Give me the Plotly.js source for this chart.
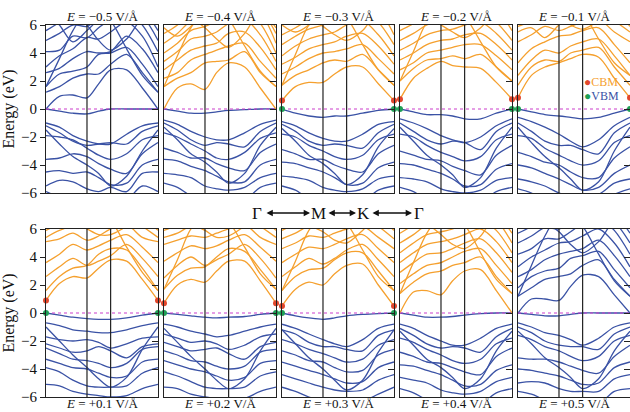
<!DOCTYPE html>
<html><head><meta charset="utf-8">
<script src="https://cdn.plot.ly/plotly-3.0.1.min.js"></script>
<style>html,body{margin:0;padding:0;background:#fff}#chart{width:630px;height:412px}</style>
</head><body><div id="chart"></div>
<script>
// k path Γ-M-K-Γ (normalised length), high-symmetry positions
const kGrid = [0, 0.12, 0.24, 0.366, 0.47, 0.577, 0.72, 0.86, 1.0];
const symK = [0.366, 0.577];
const fieldLabels = ['\u22120.5','\u22120.4','\u22120.3','\u22120.2','\u22120.1','+0.1','+0.2','+0.3','+0.4','+0.5'];
const cbmE = [null, null, 0.6, 0.7, 0.8, 0.9, 0.7, 0.5, null, null];
const vbmE = [null, null, 0, 0, 0, 0, 0, 0, null, null];
const metallic = [true, false, false, false, false, false, false, false, false, true];
const yTicks = [-6, -4, -2, 0, 2, 4, 6];
const yTickText = ['\u22126', '\u22124', '\u22122', '0', '2', '4', '6'];

const cb_m05 = [
[0.0, 0.9, 1.0, 0.8, 1.8, 2.8, 2.8, 1.5, 0.0],
[1.2, 1.6, 2.2, 2.5, 2.5, 3.2, 3.9, 2.6, 1.2],
[1.6, 2.5, 2.7, 3.0, 3.9, 4.0, 4.4, 3.2, 1.6],
[2.6, 2.9, 3.6, 4.1, 4.0, 4.1, 5.2, 4.3, 2.6],
[3.0, 3.8, 4.3, 5.1, 5.0, 5.5, 6.2, 5.2, 3.0],
[4.1, 4.2, 5.2, 5.1, 5.8, 6.4, 7.0, 6.0, 4.1],
[4.9, 5.4, 6.0, 5.9, 6.5, 7.0, 7.0, 6.6, 4.9],
[5.6, 6.2, 7.0, 7.0, 7.0, 7.0, 7.0, 7.0, 5.6],
[7.0, 6.0, 4.8, 5.6, 6.4, 7.0, 7.0, 7.0, 7.0],
[7.0, 7.0, 7.0, 6.0, 4.9, 4.2, 5.0, 6.5, 7.0],
[1.6, 3.6, 5.6, 7.0, 7.0, 7.0, 7.0, 7.0, 7.0],
[7.0, 7.0, 7.0, 7.0, 7.0, 6.3, 4.3, 2.4, 1.2]];
const vb_m05 = [
[0.0, -0.15, -0.3, -0.35, -0.15, 0.0, 0.0, 0.0, 0.0],
[-1.0, -1.3, -1.9, -2.3, -2.5, -2.5, -1.8, -1.2, -1.0],
[-1.2, -1.7, -2.3, -2.6, -2.5, -2.4, -2.5, -1.6, -1.2],
[-1.9, -2.0, -2.2, -2.8, -3.3, -3.6, -3.2, -2.2, -1.9],
[-3.6, -3.5, -3.2, -3.4, -3.9, -4.3, -4.6, -3.2, -2.4],
[-4.5, -4.4, -4.6, -4.5, -4.9, -5.4, -5.3, -4.0, -3.6],
[-5.5, -5.1, -5.2, -5.7, -5.9, -5.6, -5.9, -4.6, -4.5],
[-5.9, -6.3, -6.6, -6.6, -6.6, -6.6, -6.5, -5.5, -5.9],
[-1.5, -2.5, -3.4, -4.0, -4.6, -5.5, -4.8, -3.0, -1.5]];

const cb_m04 = [
[0.0, 1.5, 1.8, 1.4, 2.6, 3.3, 3.0, 1.5, 0.0],
[1.6, 2.2, 2.6, 3.3, 3.4, 3.5, 4.1, 2.6, 1.6],
[2.2, 2.6, 3.5, 3.9, 4.2, 4.5, 4.7, 3.4, 2.2],
[2.8, 3.5, 4.2, 4.5, 4.7, 5.4, 5.5, 4.4, 2.8],
[3.4, 4.1, 5.0, 5.2, 5.5, 6.1, 6.4, 5.3, 3.4],
[4.0, 4.7, 5.6, 5.9, 6.3, 6.8, 7.0, 6.1, 4.0],
[4.7, 5.4, 6.3, 6.7, 7.0, 7.0, 7.0, 6.8, 4.7],
[5.4, 6.0, 7.0, 7.0, 7.0, 7.0, 7.0, 7.0, 5.4],
[5.8, 5.2, 5.9, 7.0, 7.0, 7.0, 7.0, 7.0, 5.8],
[7.0, 7.0, 6.5, 5.8, 5.0, 4.4, 5.4, 7.0, 7.0],
[1.6, 3.8, 5.8, 7.0, 7.0, 7.0, 7.0, 7.0, 7.0],
[7.0, 7.0, 7.0, 7.0, 7.0, 6.4, 4.5, 2.7, 1.6]];
const vb_m04 = [
[0.0, -0.15, -0.3, -0.3, -0.2, -0.1, -0.05, 0.0, 0.0],
[-0.8, -1.1, -1.6, -2.0, -2.2, -2.2, -1.7, -1.1, -0.8],
[-1.0, -1.5, -2.2, -2.6, -2.4, -2.5, -2.7, -1.6, -1.0],
[-1.7, -2.0, -2.5, -3.0, -3.5, -3.6, -3.1, -2.1, -1.7],
[-2.8, -3.1, -3.5, -3.5, -3.9, -4.2, -4.4, -3.1, -2.5],
[-3.6, -3.7, -4.1, -4.4, -4.8, -5.2, -5.2, -4.0, -3.6],
[-4.6, -4.7, -4.9, -5.5, -5.7, -5.8, -5.6, -4.9, -4.6],
[-5.3, -5.6, -6.2, -6.5, -6.5, -6.5, -6.5, -5.6, -5.3],
[-1.3, -2.2, -3.2, -3.8, -4.5, -5.3, -4.6, -2.6, -1.3]];

const cb_m03 = [
[0.6, 1.6, 1.9, 1.9, 2.5, 3.0, 3.0, 1.8, 0.6],
[1.7, 2.4, 2.8, 3.3, 3.5, 3.4, 3.9, 2.8, 1.7],
[2.5, 3.0, 3.6, 4.0, 4.1, 4.3, 4.6, 3.6, 2.5],
[3.2, 3.7, 4.3, 4.6, 4.8, 5.2, 5.4, 4.5, 3.2],
[3.8, 4.5, 5.0, 5.3, 5.5, 6.0, 6.3, 5.3, 3.8],
[4.6, 5.2, 5.7, 6.0, 6.3, 6.8, 7.0, 6.2, 4.6],
[5.3, 5.8, 6.4, 7.0, 7.0, 7.0, 7.0, 7.0, 5.3],
[6.0, 5.5, 6.0, 7.0, 7.0, 7.0, 7.0, 7.0, 6.0],
[7.0, 7.0, 6.6, 5.9, 5.3, 4.9, 5.6, 7.0, 7.0],
[1.7, 3.9, 6.0, 7.0, 7.0, 7.0, 7.0, 7.0, 7.0],
[7.0, 7.0, 7.0, 7.0, 7.0, 6.5, 4.6, 2.8, 1.7]];
const vb_m03 = [
[0.0, -0.3, -0.5, -0.6, -0.5, -0.5, -0.3, -0.1, 0.0],
[-0.9, -1.2, -1.7, -2.1, -2.3, -2.3, -1.8, -1.1, -0.9],
[-1.1, -1.6, -2.3, -2.6, -2.5, -2.6, -2.8, -1.7, -1.1],
[-1.8, -2.0, -2.6, -3.0, -3.4, -3.6, -3.3, -2.2, -1.8],
[-2.9, -3.2, -3.6, -3.6, -4.0, -4.3, -4.5, -3.2, -2.6],
[-3.8, -3.9, -4.2, -4.5, -4.9, -5.4, -5.3, -4.2, -3.8],
[-4.8, -4.9, -5.1, -5.6, -5.8, -5.9, -5.7, -5.0, -4.8],
[-5.5, -5.8, -6.4, -6.6, -6.6, -6.6, -6.6, -5.8, -5.5],
[-1.4, -2.3, -3.3, -3.9, -4.6, -5.4, -4.7, -2.7, -1.4]];

const cb_m02 = [
[0.7, 2.2, 2.9, 3.4, 3.1, 3.0, 2.9, 1.9, 0.7],
[2.0, 2.9, 3.5, 3.6, 3.8, 3.6, 3.9, 3.0, 2.0],
[2.8, 3.3, 4.0, 4.2, 4.4, 4.6, 4.6, 3.8, 2.8],
[3.5, 4.0, 4.6, 4.9, 5.0, 5.3, 5.4, 4.6, 3.5],
[4.2, 4.7, 5.3, 5.6, 5.7, 6.0, 6.2, 5.4, 4.2],
[4.9, 5.4, 6.0, 6.3, 6.4, 6.8, 7.0, 6.2, 4.9],
[5.6, 6.1, 6.7, 7.0, 7.0, 7.0, 7.0, 7.0, 5.6],
[7.0, 7.0, 6.6, 6.0, 5.5, 5.1, 5.8, 7.0, 7.0],
[2.0, 4.1, 6.2, 7.0, 7.0, 7.0, 7.0, 7.0, 7.0],
[7.0, 7.0, 7.0, 7.0, 7.0, 6.6, 4.8, 3.0, 2.0]];
const vb_m02 = [
[0.0, -0.2, -0.4, -0.4, -0.5, -0.7, -0.7, -0.3, 0.0],
[-0.7, -1.0, -1.4, -1.9, -2.2, -2.4, -2.0, -1.2, -0.7],
[-1.0, -1.6, -2.2, -2.5, -2.3, -2.4, -2.9, -1.6, -1.0],
[-1.8, -2.0, -2.6, -3.1, -3.4, -3.7, -3.4, -2.2, -1.8],
[-3.0, -3.3, -3.6, -3.7, -4.1, -4.4, -4.7, -3.3, -2.6],
[-3.9, -4.0, -4.3, -4.6, -5.0, -5.5, -5.4, -4.3, -3.9],
[-4.9, -5.0, -5.2, -5.7, -5.9, -6.0, -5.8, -5.1, -4.9],
[-5.6, -5.9, -6.5, -6.7, -6.7, -6.7, -6.7, -5.9, -5.6],
[-1.3, -2.3, -3.3, -4.0, -4.7, -5.6, -4.9, -2.8, -1.3]];

const cb_m01 = [
[0.8, 2.4, 3.0, 3.3, 3.6, 3.9, 3.7, 2.2, 0.8],
[1.7, 3.0, 3.5, 3.4, 4.0, 4.2, 4.4, 3.0, 1.7],
[2.4, 3.5, 4.2, 4.0, 4.5, 4.8, 5.0, 3.8, 2.4],
[3.3, 4.3, 4.8, 5.2, 5.3, 5.6, 5.8, 4.6, 3.3],
[4.8, 5.3, 5.9, 5.6, 5.9, 6.2, 6.4, 5.5, 4.8],
[5.5, 5.8, 5.1, 6.0, 6.6, 7.0, 7.0, 6.3, 5.5],
[5.9, 6.3, 7.0, 7.0, 7.0, 7.0, 7.0, 7.0, 5.9],
[7.0, 7.0, 7.0, 6.5, 6.0, 5.7, 6.3, 7.0, 7.0],
[7.0, 7.0, 7.0, 7.0, 7.0, 6.8, 5.0, 3.3, 2.4]];
const vb_m01 = [
[0.0, -0.2, -0.4, -0.5, -0.6, -0.7, -0.6, -0.3, 0.0],
[-0.6, -0.9, -1.3, -1.8, -2.3, -2.7, -2.2, -1.2, -0.6],
[-1.0, -1.6, -2.3, -2.6, -2.6, -2.9, -3.2, -1.7, -1.0],
[-1.9, -2.1, -2.8, -3.3, -3.7, -4.0, -3.7, -2.4, -1.9],
[-3.1, -3.4, -3.8, -4.0, -4.5, -4.9, -4.9, -3.5, -2.7],
[-4.0, -4.2, -4.6, -5.0, -5.4, -5.8, -5.6, -4.6, -4.0],
[-5.0, -5.2, -5.5, -6.0, -6.2, -6.3, -6.1, -5.3, -5.0],
[-5.7, -6.0, -6.6, -6.8, -6.8, -6.8, -6.8, -6.1, -5.7],
[-1.3, -2.4, -3.4, -4.2, -5.0, -5.8, -5.2, -3.0, -1.3]];

const cb_p01 = [
[0.9, 2.1, 2.6, 2.5, 3.2, 3.8, 3.7, 2.4, 0.9],
[1.6, 2.6, 3.2, 3.4, 4.2, 4.6, 4.5, 3.2, 1.6],
[2.6, 3.3, 3.9, 3.4, 3.7, 4.1, 4.9, 3.9, 2.6],
[3.6, 4.2, 4.9, 4.5, 4.8, 5.2, 5.6, 4.7, 3.6],
[5.1, 5.3, 5.7, 5.2, 5.5, 6.0, 6.3, 5.4, 5.1],
[5.4, 5.9, 6.2, 6.1, 6.4, 6.7, 7.0, 6.2, 5.4],
[5.9, 6.4, 7.0, 7.0, 7.0, 7.0, 7.0, 6.8, 5.9],
[7.0, 7.0, 6.5, 6.0, 5.6, 5.6, 6.2, 7.0, 7.0],
[7.0, 7.0, 7.0, 7.0, 7.0, 6.6, 4.7, 2.9, 1.6]];
const vb_p01 = [
[0.0, -0.15, -0.3, -0.4, -0.45, -0.45, -0.35, -0.15, 0.0],
[-0.7, -0.9, -1.2, -1.3, -1.4, -1.4, -1.2, -0.9, -0.7],
[-1.7, -1.9, -2.0, -1.9, -2.1, -2.5, -2.2, -1.8, -1.7],
[-2.2, -2.5, -2.8, -2.7, -2.4, -2.7, -3.2, -2.4, -2.2],
[-2.5, -2.9, -3.3, -3.4, -3.6, -3.9, -3.6, -2.6, -2.4],
[-3.3, -3.6, -3.9, -4.0, -4.3, -4.6, -4.5, -3.5, -3.3],
[-3.9, -4.2, -4.8, -5.2, -5.3, -5.3, -5.2, -4.3, -3.9],
[-5.1, -5.2, -5.6, -5.8, -5.9, -6.0, -5.9, -5.4, -5.1],
[-1.0, -2.0, -3.0, -3.9, -4.7, -5.3, -4.6, -2.6, -1.0]];

const cb_p02 = [
[0.7, 2.0, 2.4, 2.2, 3.0, 3.7, 3.7, 2.3, 0.7],
[1.7, 2.7, 3.2, 3.3, 4.0, 4.6, 4.4, 3.1, 1.7],
[2.5, 3.4, 4.0, 3.4, 3.8, 4.2, 4.9, 3.9, 2.5],
[3.7, 4.3, 4.8, 4.6, 4.8, 5.2, 5.6, 4.7, 3.7],
[4.9, 5.2, 5.5, 5.4, 5.7, 6.0, 6.3, 5.4, 4.9],
[5.4, 5.7, 6.2, 6.1, 6.4, 6.8, 7.0, 6.2, 5.4],
[5.9, 6.3, 7.0, 7.0, 7.0, 7.0, 7.0, 6.8, 5.9],
[7.0, 7.0, 6.4, 5.9, 5.4, 5.5, 6.2, 7.0, 7.0],
[1.7, 3.8, 6.0, 7.0, 7.0, 7.0, 7.0, 7.0, 7.0],
[7.0, 7.0, 7.0, 7.0, 7.0, 6.5, 4.7, 2.8, 1.7]];
const vb_p02 = [
[0.0, -0.1, -0.2, -0.3, -0.35, -0.3, -0.25, -0.1, 0.0],
[-0.8, -1.0, -1.3, -1.5, -1.7, -1.6, -1.3, -1.0, -0.8],
[-1.5, -1.8, -2.1, -2.0, -2.2, -2.6, -2.3, -1.7, -1.5],
[-2.1, -2.4, -2.7, -2.6, -2.5, -2.9, -3.3, -2.4, -2.1],
[-2.7, -3.0, -3.4, -3.5, -3.8, -4.0, -3.8, -2.8, -2.6],
[-3.4, -3.7, -4.0, -4.2, -4.5, -4.8, -4.6, -3.6, -3.4],
[-4.2, -4.5, -4.9, -5.3, -5.4, -5.4, -5.3, -4.5, -4.2],
[-5.3, -5.4, -5.8, -6.0, -6.1, -6.2, -6.1, -5.6, -5.3],
[-1.1, -2.1, -3.1, -4.0, -4.8, -5.4, -4.7, -2.7, -1.1]];

const cb_p03 = [
[0.5, 1.7, 2.2, 2.0, 2.8, 3.4, 3.5, 2.0, 0.5],
[1.6, 2.6, 3.1, 3.2, 3.8, 4.3, 4.3, 3.0, 1.6],
[2.6, 3.3, 3.9, 3.5, 3.9, 4.5, 4.9, 3.8, 2.6],
[3.6, 4.2, 4.7, 4.6, 4.9, 5.3, 5.6, 4.6, 3.6],
[4.6, 5.0, 5.5, 5.4, 5.7, 6.0, 6.2, 5.4, 4.6],
[5.3, 5.7, 6.2, 6.1, 6.4, 6.8, 7.0, 6.2, 5.3],
[5.9, 6.4, 7.0, 7.0, 7.0, 7.0, 7.0, 6.8, 5.9],
[7.0, 7.0, 6.3, 5.8, 5.2, 5.0, 5.9, 7.0, 7.0],
[1.6, 3.7, 5.9, 7.0, 7.0, 7.0, 7.0, 7.0, 7.0],
[7.0, 7.0, 7.0, 7.0, 7.0, 6.4, 4.5, 2.6, 1.6]];
const vb_p03 = [
[0.0, -0.2, -0.35, -0.45, -0.35, -0.2, -0.1, -0.05, 0.0],
[-0.8, -1.1, -1.5, -1.9, -2.2, -2.4, -1.9, -1.1, -0.8],
[-1.2, -1.5, -2.1, -2.4, -2.4, -2.6, -2.7, -1.6, -1.2],
[-1.9, -2.2, -2.6, -2.9, -3.2, -3.5, -3.3, -2.3, -1.9],
[-2.7, -3.0, -3.4, -3.5, -3.9, -4.2, -4.1, -3.0, -2.6],
[-3.5, -3.8, -4.1, -4.4, -4.7, -5.0, -4.9, -3.9, -3.5],
[-4.4, -4.7, -5.0, -5.3, -5.5, -5.6, -5.5, -4.8, -4.4],
[-5.3, -5.6, -6.0, -6.3, -6.4, -6.4, -6.3, -5.8, -5.3],
[-1.2, -2.2, -3.2, -4.0, -4.8, -5.5, -4.8, -2.8, -1.2]];

const cb_p04 = [
[0.0, 1.5, 1.6, 1.3, 2.3, 3.0, 3.1, 1.6, 0.0],
[1.4, 2.2, 2.8, 3.0, 3.4, 3.6, 4.0, 2.6, 1.4],
[2.1, 2.8, 3.4, 3.6, 4.0, 4.4, 4.6, 3.4, 2.1],
[2.9, 3.6, 4.2, 4.3, 4.6, 5.0, 5.3, 4.3, 2.9],
[3.6, 4.3, 4.9, 5.1, 5.3, 5.6, 6.0, 5.1, 3.6],
[4.3, 5.0, 5.6, 5.8, 6.0, 6.4, 6.7, 5.9, 4.3],
[5.0, 5.6, 6.3, 6.6, 7.0, 7.0, 7.0, 6.6, 5.0],
[5.7, 6.3, 7.0, 7.0, 7.0, 7.0, 7.0, 7.0, 5.7],
[7.0, 7.0, 6.4, 5.6, 4.9, 4.6, 5.5, 7.0, 7.0],
[1.4, 3.6, 5.7, 7.0, 7.0, 7.0, 7.0, 7.0, 7.0],
[7.0, 7.0, 7.0, 7.0, 7.0, 6.3, 4.3, 2.4, 1.4]];
const vb_p04 = [
[0.0, -0.15, -0.3, -0.3, -0.25, -0.15, -0.05, 0.0, 0.0],
[-0.8, -1.1, -1.6, -2.0, -2.3, -2.3, -1.8, -1.1, -0.8],
[-1.1, -1.6, -2.2, -2.5, -2.4, -2.5, -2.8, -1.7, -1.1],
[-1.8, -2.1, -2.6, -3.0, -3.4, -3.6, -3.3, -2.2, -1.8],
[-2.8, -3.1, -3.5, -3.6, -3.9, -4.2, -4.4, -3.1, -2.5],
[-3.7, -3.8, -4.1, -4.4, -4.8, -5.2, -5.1, -4.1, -3.7],
[-4.6, -4.8, -5.0, -5.5, -5.7, -5.8, -5.6, -4.9, -4.6],
[-5.4, -5.7, -6.2, -6.5, -6.5, -6.5, -6.5, -5.7, -5.4],
[-1.3, -2.3, -3.3, -3.9, -4.6, -5.4, -4.7, -2.7, -1.3]];

const cb_p05 = [
[0.0, 1.0, 1.0, 0.9, 1.9, 2.7, 2.6, 1.3, 0.0],
[1.2, 1.8, 2.4, 2.6, 2.8, 3.4, 3.8, 2.4, 1.2],
[1.8, 2.6, 3.0, 3.2, 3.9, 4.1, 4.4, 3.1, 1.8],
[2.6, 3.1, 3.8, 4.2, 4.4, 4.6, 5.2, 4.1, 2.6],
[3.3, 4.0, 4.5, 5.0, 5.1, 5.5, 6.0, 5.0, 3.3],
[4.2, 4.6, 5.3, 5.3, 5.8, 6.4, 6.8, 5.9, 4.2],
[5.0, 5.5, 6.1, 6.0, 6.5, 7.0, 7.0, 6.5, 5.0],
[5.7, 6.2, 7.0, 7.0, 7.0, 7.0, 7.0, 7.0, 5.7],
[7.0, 7.0, 6.5, 5.8, 4.9, 4.3, 5.1, 6.6, 7.0],
[1.2, 3.4, 5.5, 7.0, 7.0, 7.0, 7.0, 7.0, 7.0],
[7.0, 7.0, 7.0, 7.0, 7.0, 6.2, 4.2, 2.3, 1.2]];
const vb_p05 = [
[0.0, -0.1, -0.2, -0.2, -0.1, 0.0, 0.0, 0.0, 0.0],
[-0.7, -1.0, -1.4, -1.6, -1.9, -2.3, -1.8, -1.0, -0.7],
[-1.0, -1.4, -2.0, -2.3, -2.4, -2.4, -2.6, -1.5, -1.0],
[-1.6, -1.9, -2.4, -2.7, -3.1, -3.4, -3.1, -2.0, -1.6],
[-3.2, -3.3, -3.3, -3.5, -3.8, -4.1, -4.3, -3.1, -2.3],
[-4.0, -4.1, -4.3, -4.5, -4.8, -5.1, -5.0, -3.9, -3.5],
[-5.0, -4.9, -5.0, -5.4, -5.6, -5.6, -5.6, -4.7, -4.4],
[-5.6, -5.8, -6.2, -6.5, -6.5, -6.5, -6.5, -5.6, -5.4],
[-1.3, -2.2, -3.2, -3.9, -4.6, -5.4, -4.7, -2.7, -1.3]];

const conduction = [cb_m05, cb_m04, cb_m03, cb_m02, cb_m01, cb_p01, cb_p02, cb_p03, cb_p04, cb_p05];
const valence = [vb_m05, vb_m04, vb_m03, vb_m02, vb_m01, vb_p01, vb_p02, vb_p03, vb_p04, vb_p05];

// ---- styling / geometry ----
const W = 630, H = 412;
const BLUE = '#3a52a5', ORANGE = '#f5a02e', FERMI = '#cc3fcc', FRAME = '#222';
const serif = '"Liberation Serif", Times, serif';
const pxX = p => p / W, pxY = p => 1 - p / H;
const rowTop = [25, 229], rowBot = [193, 397];

const traces = [], layout = {
  width: W, height: H, margin: {l: 0, r: 0, t: 0, b: 0},
  paper_bgcolor: '#fff', plot_bgcolor: '#fff', showlegend: false,
  font: {family: serif},
  annotations: [], shapes: []
};

for (let i = 0; i < 10; i++) {
  const n = i + 1, sx = n === 1 ? '' : String(n);
  const row = i < 5 ? 0 : 1, col = i % 5;
  const x0 = 46 + 118 * col, x1 = Math.min(x0 + 112, W);
  const xa = 'x' + sx, ya = 'y' + sx;
  layout['xaxis' + sx] = {domain: [pxX(x0), pxX(x1)], range: [0, 1], anchor: ya,
    showline: true, mirror: true, linecolor: FRAME, linewidth: 1.3,
    showgrid: false, zeroline: false, ticks: '', showticklabels: false, fixedrange: true};
  layout['yaxis' + sx] = {domain: [pxY(rowBot[row]), pxY(rowTop[row])], range: [-6, 6], anchor: xa,
    side: 'right', ticks: 'inside', ticklen: 6, tickwidth: 1, tickcolor: FRAME,
    tickvals: yTicks, showticklabels: false,
    showline: true, mirror: true, linecolor: FRAME, linewidth: 1.3,
    showgrid: false, zeroline: false, fixedrange: true};

  valence[i].forEach(b => traces.push({x: kGrid, y: b, xaxis: xa, yaxis: ya, mode: 'lines',
    line: {color: BLUE, width: 1.3, shape: 'spline', smoothing: 0.9}, hoverinfo: 'skip'}));
  conduction[i].forEach(b => traces.push({x: kGrid, y: b, xaxis: xa, yaxis: ya, mode: 'lines',
    line: {color: metallic[i] ? BLUE : ORANGE, width: 1.3, shape: 'spline', smoothing: 0.9}, hoverinfo: 'skip'}));

  // high-symmetry vertical lines
  symK.forEach(k => layout.shapes.push({type: 'line', xref: xa, yref: ya + ' domain',
    x0: k, x1: k, y0: 0, y1: 1, line: {color: FRAME, width: 1.2}}));

  // Fermi level (left panels get it on the labelled overlay axis)
  let fy = ya;
  if (col === 0) {
    const ov = row === 0 ? '11' : '12';
    fy = 'y' + ov;
    layout['yaxis' + ov] = {overlaying: ya, anchor: xa, side: 'left', range: [-6, 6],
      tickvals: yTicks, ticktext: yTickText, ticks: 'outside', ticklen: 5, tickwidth: 1, tickcolor: FRAME,
      showline: false, showgrid: false, zeroline: false, fixedrange: true,
      tickfont: {family: serif, size: 15, color: '#111'},
      title: {text: 'Energy (eV)', font: {family: serif, size: 16, color: '#111'}, standoff: 6}};
  }
  traces.push({x: [kGrid[0], kGrid[kGrid.length - 1]], y: [0, 0], xaxis: xa, yaxis: fy, mode: 'lines',
    line: {color: FERMI, width: 1.2, dash: 'dot'}, hoverinfo: 'skip'});

  // CBM / VBM markers
  if (cbmE[i] !== null) {
    traces.push({x: [kGrid[0], kGrid[kGrid.length - 1]], y: [vbmE[i], vbmE[i]], xaxis: xa, yaxis: fy,
      mode: 'markers', cliponaxis: false, marker: {color: '#1fa055', size: 6}, hoverinfo: 'skip'});
    traces.push({x: [kGrid[0], kGrid[kGrid.length - 1]], y: [cbmE[i], cbmE[i]], xaxis: xa, yaxis: fy,
      mode: 'markers', cliponaxis: false, marker: {color: '#e2472c', size: 6}, hoverinfo: 'skip'});
  }

  // panel title
  layout.annotations.push({xref: 'paper', yref: 'paper', x: pxX((x0 + x0 + 112) / 2), y: row === 0 ? pxY(17) : pxY(403),
    text: '<i>E</i> = ' + fieldLabels[i] + ' V/\u00c5', showarrow: false, xanchor: 'center', yanchor: 'middle',
    font: {family: serif, size: 13, color: '#111'}});
}

// legend in last top panel
layout.annotations.push({xref: 'paper', yref: 'paper', x: pxX(582), y: pxY(82), xanchor: 'left', yanchor: 'middle',
  showarrow: false, text: '<span style="color:#e2472c">\u25cf</span><span style="color:#f5a02e">CBM</span>',
  font: {family: serif, size: 12}});
layout.annotations.push({xref: 'paper', yref: 'paper', x: pxX(582), y: pxY(96), xanchor: 'left', yanchor: 'middle',
  showarrow: false, text: '<span style="color:#1fa055">\u25cf</span><span style="color:#3a52a5">VBM</span>',
  font: {family: serif, size: 12}});

// k-path legend between rows
const pathLabels = ['\u0393', 'M', 'K', '\u0393'];
const pathPx = [257, 318, 364, 419];
const arrowPx = [[265, 310], [327, 356], [371, 412]];
const midY = 213;
pathLabels.forEach((t, j) => layout.annotations.push({xref: 'paper', yref: 'paper', x: pxX(pathPx[j]), y: pxY(midY),
  text: t, showarrow: false, xanchor: 'center', yanchor: 'middle', font: {family: serif, size: 17, color: '#111'}}));
arrowPx.forEach(a => layout.annotations.push({xref: 'paper', yref: 'paper', x: pxX(a[1]), y: pxY(midY),
  ax: -(a[1] - a[0]), ay: 0, text: '', showarrow: true, arrowside: 'end+start', arrowhead: 2, arrowsize: 0.9,
  arrowwidth: 1.4, arrowcolor: '#111', standoff: 0, startstandoff: 0}));

Plotly.newPlot('chart', traces, layout, {staticPlot: true, displayModeBar: false});
</script></body></html>
